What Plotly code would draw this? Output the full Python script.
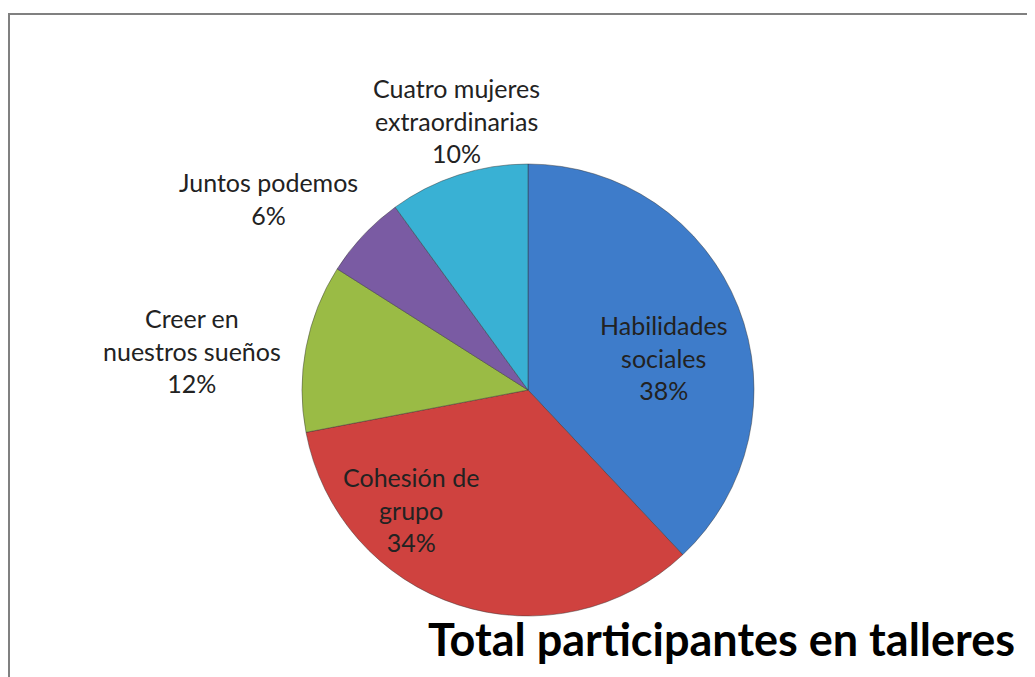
import plotly.graph_objects as go

labels = ["Habilidades sociales", "Cohesión de grupo", "Creer en nuestros sueños",
          "Juntos podemos", "Cuatro mujeres extraordinarias"]
label_lines = ["Habilidades<br>sociales", "Cohesión de<br>grupo", "Creer en<br>nuestros sueños",
               "Juntos podemos", "Cuatro mujeres<br>extraordinarias"]
values = [38, 34, 12, 6, 10]
colors = ["#3e7cca", "#cf423f", "#9abb45", "#7a5ba3", "#39b1d4"]

W, H = 1035, 677
# label centres in page pixels (Excel "best fit" placement)
label_px = [(656, 349), (403, 501), (184, 342), (260, 191), (448, 112)]

fig = go.Figure()
fig.add_trace(go.Pie(
    labels=labels,
    values=values,
    sort=False,
    direction="clockwise",
    rotation=0,
    marker=dict(colors=colors, line=dict(color="rgba(50,50,50,0.45)", width=1)),
    textinfo="none",
    showlegend=False,
    hoverinfo="label+percent",
    domain=dict(x=[294 / W, 746 / W], y=[(H - 608) / H, (H - 156) / H]),
))

total = sum(values)
for txt, v, (px, py) in zip(label_lines, values, label_px):
    fig.add_annotation(
        text=f"{txt}<br>{round(100 * v / total)}%",
        x=px / W, y=1 - py / H, xref="paper", yref="paper",
        xanchor="center", yanchor="middle", align="center",
        showarrow=False,
        font=dict(family="Lato", size=25, color="#222222"),
    )

# chart frame (runs off the right and bottom edge like the source)
fig.add_shape(type="rect", xref="paper", yref="paper",
              x0=1 / W, x1=1.05, y0=-0.05, y1=(H - 6) / H,
              line=dict(color="#808080", width=2), fillcolor="rgba(0,0,0,0)")

fig.update_layout(
    width=W, height=H,
    margin=dict(l=0, r=0, t=0, b=0),
    paper_bgcolor="white",
    plot_bgcolor="white",
    title=dict(text="<b>Total participantes en talleres</b>",
               font=dict(family="Lato", size=45, color="black"),
               x=1007 / W, xanchor="right", xref="paper",
               y=(H - 632) / H, yanchor="middle", yref="container"),
)

fig.write_html("out.html")
